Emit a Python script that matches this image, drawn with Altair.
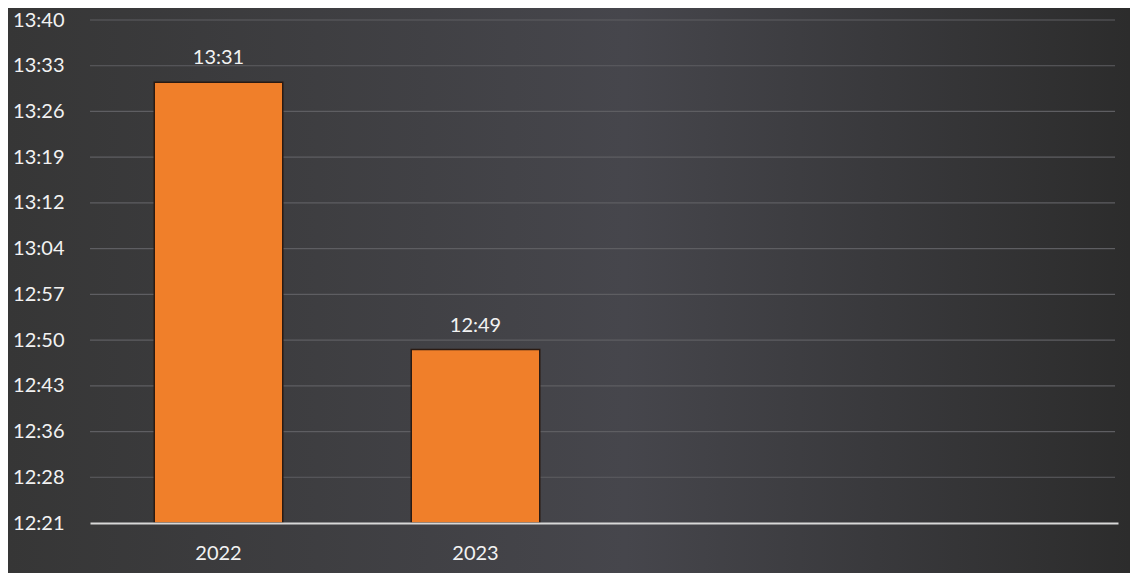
import altair as alt
import pandas as pd

# Data
years = ["2022", "2023"]
slots = ["2022", "2023", " ", "  "]          # two empty category slots on the axis
minutes = [811.0, 768.9]                      # time of day in minutes (13:31, 12:49)
value_labels = ["13:31", "12:49"]
tick_minutes = [741.6 + 7.2 * i for i in range(12)]  # 12:21 ... 13:40 (Excel 0.005-day steps)

df = pd.DataFrame({"year": years, "minutes": minutes, "label": value_labels})
grid_df = pd.DataFrame({"t": tick_minutes[1:]})

W, H = 1028, 503
PL, PT, PR, PB = 82, 12, 12, 50
FONT = "Lato"
TXT = "#f2f2f2"
yscale = alt.Scale(domain=[tick_minutes[0], tick_minutes[-1]], zero=False, nice=False)

y_axis = alt.Axis(
    title=None, values=tick_minutes, ticks=False, domain=False, grid=False,
    labelExpr="floor(datum.value/60) + ':' + pad(floor(datum.value % 60), 2, '0', 'left')",
    labelFontSize=20, labelColor=TXT, labelFont=FONT, labelPadding=26, zindex=1,
)

bg = alt.Chart(df).mark_rect(
    clip=False,
    color=alt.LinearGradient(
        gradient="linear",
        x1=0, x2=1, y1=0, y2=0,
        stops=[
            alt.GradientStop(offset=0, color="#363636"),
            alt.GradientStop(offset=0.55, color="#46464c"),
            alt.GradientStop(offset=1, color="#2c2c2c"),
        ],
    ),
).encode(
    x=alt.value(-PL), x2=alt.value(W + PR),
    y=alt.value(-PT), y2=alt.value(H + PB),
)

grid = alt.Chart(grid_df).mark_rule(color="#5e5e62", strokeWidth=1.2).encode(
    y=alt.Y("t:Q", scale=yscale, axis=y_axis),
    x=alt.value(0), x2=alt.value(W - 3),
)

x_enc = alt.X(
    "year:N",
    scale=alt.Scale(domain=slots, paddingInner=0.5, paddingOuter=0.25),
    axis=alt.Axis(
        title=None, ticks=False, domain=True, domainColor="#d8d8d8", domainWidth=2,
        labelAngle=0, labelFontSize=20, labelColor=TXT, labelFont=FONT,
        labelPadding=20, grid=False, zindex=1,
    ),
)

bars = alt.Chart(df).mark_bar(
    color="#f07f2a", stroke="#2a1a12", strokeWidth=1.5,
).encode(x=x_enc, y=alt.Y("minutes:Q", scale=yscale, title=None),
         y2=alt.datum(tick_minutes[0]))

text = alt.Chart(df).mark_text(
    baseline="bottom", dy=-14, fontSize=20, color=TXT, font=FONT,
).encode(x="year:N", y=alt.Y("minutes:Q", title=None), text="label:N")

chart = alt.layer(bg, grid, bars, text).properties(
    width=W, height=H,
    autosize=alt.AutoSizeParams(type="none"),
    padding={"left": PL, "top": PT, "right": PR, "bottom": PB},
    background="#333333",
).configure_view(stroke=None)

chart.save("out.html", embed_options={"renderer": "svg", "actions": False})
